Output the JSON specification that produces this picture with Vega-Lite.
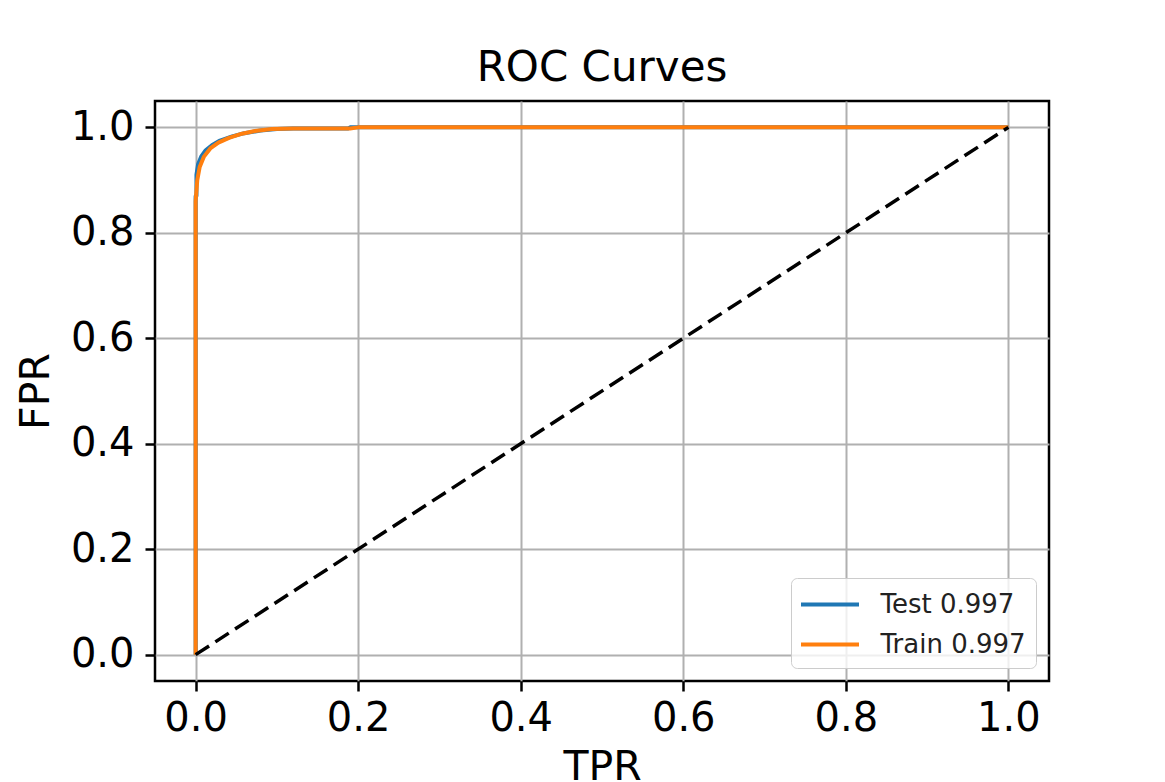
{
  "$schema": "https://vega.github.io/schema/vega-lite/v6.json",
  "width": 894,
  "height": 580,
  "autosize": {"type": "none"},
  "padding": {"left": 155, "top": 101, "right": 116, "bottom": 101},
  "background": "white",
  "title": {
    "text": "ROC Curves",
    "font": "DejaVu Sans",
    "fontSize": 42,
    "fontWeight": "normal",
    "color": "black",
    "anchor": "middle",
    "baseline": "bottom",
    "offset": -31
  },
  "datasets": {
    "roc": [
      {"series": "Test 0.997", "i": 0, "tpr": 0.0, "fpr": 0.0},
      {"series": "Test 0.997", "i": 1, "tpr": 0.0, "fpr": 0.87},
      {"series": "Test 0.997", "i": 2, "tpr": 0.001, "fpr": 0.87},
      {"series": "Test 0.997", "i": 3, "tpr": 0.001, "fpr": 0.91},
      {"series": "Test 0.997", "i": 4, "tpr": 0.003, "fpr": 0.93},
      {"series": "Test 0.997", "i": 5, "tpr": 0.007, "fpr": 0.945},
      {"series": "Test 0.997", "i": 6, "tpr": 0.012, "fpr": 0.956},
      {"series": "Test 0.997", "i": 7, "tpr": 0.02, "fpr": 0.966},
      {"series": "Test 0.997", "i": 8, "tpr": 0.03, "fpr": 0.975},
      {"series": "Test 0.997", "i": 9, "tpr": 0.045, "fpr": 0.983},
      {"series": "Test 0.997", "i": 10, "tpr": 0.06, "fpr": 0.989},
      {"series": "Test 0.997", "i": 11, "tpr": 0.08, "fpr": 0.994},
      {"series": "Test 0.997", "i": 12, "tpr": 0.1, "fpr": 0.997},
      {"series": "Test 0.997", "i": 13, "tpr": 0.12, "fpr": 0.998},
      {"series": "Test 0.997", "i": 14, "tpr": 0.188, "fpr": 0.998},
      {"series": "Test 0.997", "i": 15, "tpr": 0.19, "fpr": 1.0},
      {"series": "Test 0.997", "i": 16, "tpr": 1.0, "fpr": 1.0},
      {"series": "Train 0.997", "i": 0, "tpr": 0.0, "fpr": 0.0},
      {"series": "Train 0.997", "i": 1, "tpr": 0.0, "fpr": 0.86},
      {"series": "Train 0.997", "i": 2, "tpr": 0.002, "fpr": 0.9},
      {"series": "Train 0.997", "i": 3, "tpr": 0.005, "fpr": 0.925},
      {"series": "Train 0.997", "i": 4, "tpr": 0.01, "fpr": 0.944},
      {"series": "Train 0.997", "i": 5, "tpr": 0.018, "fpr": 0.96},
      {"series": "Train 0.997", "i": 6, "tpr": 0.028, "fpr": 0.971},
      {"series": "Train 0.997", "i": 7, "tpr": 0.041, "fpr": 0.98},
      {"series": "Train 0.997", "i": 8, "tpr": 0.057, "fpr": 0.988},
      {"series": "Train 0.997", "i": 9, "tpr": 0.073, "fpr": 0.993},
      {"series": "Train 0.997", "i": 10, "tpr": 0.094, "fpr": 0.997},
      {"series": "Train 0.997", "i": 11, "tpr": 0.12, "fpr": 0.998},
      {"series": "Train 0.997", "i": 12, "tpr": 0.19, "fpr": 0.998},
      {"series": "Train 0.997", "i": 13, "tpr": 0.2, "fpr": 1.0},
      {"series": "Train 0.997", "i": 14, "tpr": 1.0, "fpr": 1.0}
    ],
    "diag": [
      {"i": 0, "tpr": 0.0, "fpr": 0.0},
      {"i": 1, "tpr": 1.0, "fpr": 1.0}
    ]
  },
  "layer": [
    {
      "data": {"name": "roc"},
      "mark": {"type": "line", "strokeWidth": 4, "strokeJoin": "round", "strokeCap": "butt"},
      "encoding": {
        "x": {
          "field": "tpr", "type": "quantitative", "title": "TPR",
          "scale": {"domain": [-0.05, 1.05], "nice": false, "zero": false},
          "axis": {"values": [0, 0.2, 0.4, 0.6, 0.8, 1.0], "format": ".1f", "labelPadding": 7, "titlePadding": 9}
        },
        "y": {
          "field": "fpr", "type": "quantitative", "title": "FPR",
          "scale": {"domain": [-0.05, 1.05], "nice": false, "zero": false},
          "axis": {"values": [0, 0.2, 0.4, 0.6, 0.8, 1.0], "format": ".1f", "labelPadding": 11, "titlePadding": 13}
        },
        "color": {
          "field": "series", "type": "nominal",
          "scale": {"domain": ["Test 0.997", "Train 0.997"], "range": ["#1f77b4", "#ff7f0e"]},
          "legend": {
            "title": null,
            "orient": "bottom-right",
            "offset": 13,
            "symbolType": "M-2,0H2",
            "symbolStrokeWidth": 4,
            "symbolSize": 841,
            "symbolOffset": 12.5,
            "labelOffset": 34,
            "labelFontSize": 26,
            "labelFont": "DejaVu Sans",
            "labelColor": "#222222",
            "padding": 10,
            "rowPadding": 10,
            "strokeColor": "#cccccc",
            "fillColor": "rgba(255,255,255,0.8)",
            "cornerRadius": 6
          }
        },
        "order": {"field": "i", "type": "quantitative"}
      }
    },
    {
      "data": {"name": "diag"},
      "mark": {"type": "line", "color": "black", "strokeWidth": 3.5, "strokeDash": [16, 7.5]},
      "encoding": {
        "x": {"field": "tpr", "type": "quantitative"},
        "y": {"field": "fpr", "type": "quantitative"},
        "order": {"field": "i", "type": "quantitative"}
      }
    }
  ],
  "config": {
    "view": {"stroke": "black", "strokeWidth": 2.5},
    "axis": {
      "labelFont": "DejaVu Sans",
      "labelFontSize": 40,
      "labelColor": "black",
      "titleFont": "DejaVu Sans",
      "titleFontSize": 41,
      "titleFontWeight": "normal",
      "titleColor": "black",
      "grid": true,
      "gridColor": "#b0b0b0",
      "gridWidth": 2,
      "domain": false,
      "tickColor": "black",
      "tickSize": 10,
      "tickWidth": 2.5
    }
  }
}
